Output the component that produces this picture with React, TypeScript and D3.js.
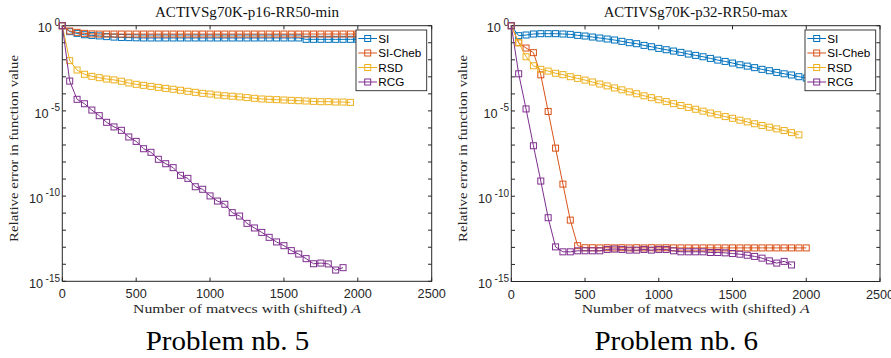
import React from 'react';
import * as d3 from 'd3';

// ---------- data (log10 of relative error, one point every 50 matvecs) ----------
const seriesNames = ['SI', 'SI-Cheb', 'RSD', 'RCG'];
const seriesColors = ['#0072BD', '#D95319', '#EDB120', '#7E2F8E'];
const matvecStep = 50;
const xTickValues = [0, 500, 1000, 1500, 2000, 2500];
const yLabelExps = [0, -5, -10, -15];
const yMinorExps = d3.range(0, -16, -1);

// Problem nb. 5 : ACTIVSg70K-p16-RR50-min
const p5SI = [0, -0.35, -0.45, -0.53, -0.57, -0.6, -0.64, -0.67, -0.69, -0.7, -0.71, -0.72, -0.72, -0.72, -0.72,
  -0.72, -0.72, -0.72, -0.72, -0.72, -0.72, -0.72, -0.72, -0.72, -0.72, -0.72, -0.72, -0.72, -0.72, -0.72, -0.72,
  -0.72, -0.72, -0.8, -0.8, -0.8, -0.8, -0.8, -0.8, -0.8, -0.8];
const p5SICheb = [0, -0.31, -0.39, -0.45, -0.48, -0.49, -0.49, -0.49, -0.49, -0.49, -0.49, -0.49, -0.49, -0.49,
  -0.49, -0.49, -0.49, -0.49, -0.49, -0.49, -0.49, -0.49, -0.49, -0.49, -0.49, -0.49, -0.49, -0.49, -0.49, -0.49,
  -0.49, -0.49, -0.49, -0.49, -0.49, -0.49, -0.49, -0.49, -0.49, -0.49, -0.49];
const p5RSD = [0, -2.05, -2.6, -2.85, -2.97, -3.05, -3.13, -3.18, -3.26, -3.36, -3.44, -3.5, -3.56, -3.62, -3.68,
  -3.73, -3.79, -3.85, -3.91, -3.97, -4.01, -4.07, -4.11, -4.14, -4.18, -4.22, -4.26, -4.3, -4.32, -4.34, -4.36,
  -4.38, -4.4, -4.42, -4.44, -4.46, -4.46, -4.48, -4.48, -4.5];
const p5RCG = [0, -3.25, -4.32, -4.58, -4.95, -5.28, -5.67, -5.94, -6.14, -6.53, -6.79, -7.22, -7.43, -7.84, -8.1,
  -8.33, -8.78, -8.96, -9.45, -9.6, -9.99, -10.29, -10.48, -10.97, -11.17, -11.6, -11.87, -12.13, -12.42, -12.69,
  -12.91, -13.2, -13.4, -13.67, -13.97, -13.93, -13.98, -14.34, -14.2];

// Problem nb. 6 : ACTIVSg70K-p32-RR50-max
const p6SI = [0, -0.585, -0.546, -0.487, -0.468, -0.468, -0.468, -0.487, -0.507, -0.566, -0.605, -0.664, -0.722,
  -0.781, -0.84, -0.918, -0.997, -1.056, -1.154, -1.232, -1.33, -1.408, -1.487, -1.565, -1.663, -1.741, -1.82,
  -1.918, -2.016, -2.094, -2.19, -2.29, -2.37, -2.46, -2.56, -2.64, -2.74, -2.82, -2.89, -2.99, -3.07];
const p6SICheb = [0, -1.0, -1.31, -1.58, -2.88, -5.03, -7.18, -9.29, -11.4, -12.9, -13.02, -13.02, -13.03, -13.02,
  -13.03, -13.02, -13.03, -13.02, -13.03, -13.02, -13.03, -13.02, -13.03, -13.03, -13.03, -13.03, -13.03, -13.03,
  -13.03, -13.03, -13.03, -13.03, -13.03, -13.03, -13.03, -13.03, -13.03, -13.03, -13.03, -13.03, -13.03];
const p6RSD = [0, -1.0, -1.82, -2.35, -2.56, -2.66, -2.79, -2.87, -2.99, -3.09, -3.19, -3.3, -3.42, -3.53, -3.65,
  -3.76, -3.88, -3.99, -4.11, -4.22, -4.34, -4.45, -4.57, -4.68, -4.79, -4.9, -5.01, -5.12, -5.22, -5.33, -5.43,
  -5.54, -5.64, -5.75, -5.85, -5.95, -6.05, -6.15, -6.27, -6.4];
const p6RCG = [0, -2.82, -4.88, -7.04, -9.11, -11.26, -12.97, -13.26, -13.26, -13.2, -13.2, -13.2, -13.2, -13.12,
  -13.1, -13.12, -13.16, -13.16, -13.12, -13.16, -13.12, -13.12, -13.2, -13.26, -13.26, -13.26, -13.26, -13.3,
  -13.3, -13.32, -13.36, -13.4, -13.46, -13.53, -13.63, -13.79, -13.92, -13.82, -14.03];

const axisColor = '#262626';
const sans = '"Liberation Sans", Arial, Helvetica, sans-serif';
const serif = '"Liberation Serif", "Times New Roman", serif';

type PanelProps = {
  x0: number; x1: number; y0: number; y1: number;
  title: string; caption: string; captionX: number;
  series: number[][];
  legendX: number; legendY: number;
};

function Panel(p: PanelProps) {
  const x = d3.scaleLinear().domain([0, 2500]).range([p.x0, p.x1]);
  const y = d3.scaleLog().domain([1e-15, 1]).range([p.y1, p.y0]);
  const line = d3.line<number>().x((_, i) => x(i * matvecStep)).y(d => y(Math.pow(10, d)));
  const tl = 3.7;
  const cx = (p.x0 + p.x1) / 2;
  const ms = 6;
  const legW = 70.7, legH = 60.7;
  return (
    <g>
      {/* frame */}
      <rect x={p.x0} y={p.y0} width={p.x1 - p.x0} height={p.y1 - p.y0} fill="none" stroke={axisColor} strokeWidth={1} />
      {xTickValues.map(t => (
        <g key={'xt' + t}>
          <line x1={x(t)} x2={x(t)} y1={p.y1} y2={p.y1 - tl} stroke={axisColor} />
          <line x1={x(t)} x2={x(t)} y1={p.y0} y2={p.y0 + tl} stroke={axisColor} />
          <text x={x(t)} y={p.y1 + 17} textAnchor="middle" fontFamily={sans} fontSize={12.7} fill={axisColor}>{t}</text>
        </g>
      ))}
      {yMinorExps.map(e => (
        <g key={'yt' + e}>
          <line x1={p.x0} x2={p.x0 + tl} y1={y(Math.pow(10, e))} y2={y(Math.pow(10, e))} stroke={axisColor} />
          <line x1={p.x1} x2={p.x1 - tl} y1={y(Math.pow(10, e))} y2={y(Math.pow(10, e))} stroke={axisColor} />
        </g>
      ))}
      {yLabelExps.map(e => (
        <text key={'yl' + e} x={p.x0 - 2.3} y={y(Math.pow(10, e)) + 6.6} textAnchor="end" fontFamily={sans} fontSize={12.7} fill={axisColor}>
          10<tspan dx={2.5} dy={-6.3} fontSize={10}>{e === 0 ? '0' : String(e)}</tspan>
        </text>
      ))}
      {/* series */}
      {p.series.map((s, si) => (
        <g key={'s' + si} stroke={seriesColors[si]} fill="none" strokeWidth={1}>
          <path d={line(s) || ''} />
          {s.map((v, i) => (
            <rect key={i} x={x(i * matvecStep) - ms / 2} y={y(Math.pow(10, v)) - ms / 2} width={ms} height={ms} />
          ))}
        </g>
      ))}
      {/* legend */}
      <rect x={p.legendX} y={p.legendY} width={legW} height={legH} fill="#fff" stroke={axisColor} strokeWidth={0.9} />
      {seriesNames.map((n, i) => {
        const ry = p.legendY + 8.5 + i * 14.5;
        return (
          <g key={'lg' + n}>
            <line x1={p.legendX + 2.3} x2={p.legendX + 21} y1={ry} y2={ry} stroke={seriesColors[i]} />
            <rect x={p.legendX + 11.7 - ms / 2} y={ry - ms / 2} width={ms} height={ms} fill="none" stroke={seriesColors[i]} />
            <text x={p.legendX + 22.3} y={ry + 4.2} fontFamily={sans} fontSize={11.7} fill="#000">{n}</text>
          </g>
        );
      })}
      {/* titles & labels */}
      <text x={cx} y={16.7} textAnchor="middle" fontFamily={serif} fontSize={13.7} textLength={184} lengthAdjust="spacingAndGlyphs" fill="#111">{p.title}</text>
      <text x={cx} y={313.3} textAnchor="middle" fontFamily={serif} fontSize={13.5} textLength={228} lengthAdjust="spacingAndGlyphs" fill="#262626">
        Number of matvecs with (shifted) <tspan fontStyle="italic">A</tspan>
      </text>
      <text transform={`translate(${p.x0 - 44},148.5) rotate(-90)`} textAnchor="middle" fontFamily={serif} fontSize={13.5} textLength={187} lengthAdjust="spacingAndGlyphs" fill="#262626">
        Relative error in function value
      </text>
      <text x={p.captionX} y={350} textAnchor="middle" fontFamily={serif} fontSize={26.5} textLength={163.7} lengthAdjust="spacingAndGlyphs" fill="#000">{p.caption}</text>
    </g>
  );
}

export default function App() {
  return (
    <svg width={891} height={358} viewBox="0 0 891 358" style={{ display: 'block', position: 'absolute', left: 0, top: 0, background: '#fff' }}>
      <rect width={891} height={358} fill="#fff" />
      <Panel x0={62.3} x1={431.7} y0={25.7} y1={281.3} title="ACTIVSg70K-p16-RR50-min" caption="Problem nb. 5" captionX={227.5}
        series={[p5SI, p5SICheb, p5RSD, p5RCG]} legendX={356} legendY={30} />
      <Panel x0={511.3} x1={880} y0={25.7} y1={281.5} title="ACTIVSg70K-p32-RR50-max" caption="Problem nb. 6" captionX={676.3}
        series={[p6SI, p6SICheb, p6RSD, p6RCG]} legendX={805} legendY={30} />
    </svg>
  );
}
